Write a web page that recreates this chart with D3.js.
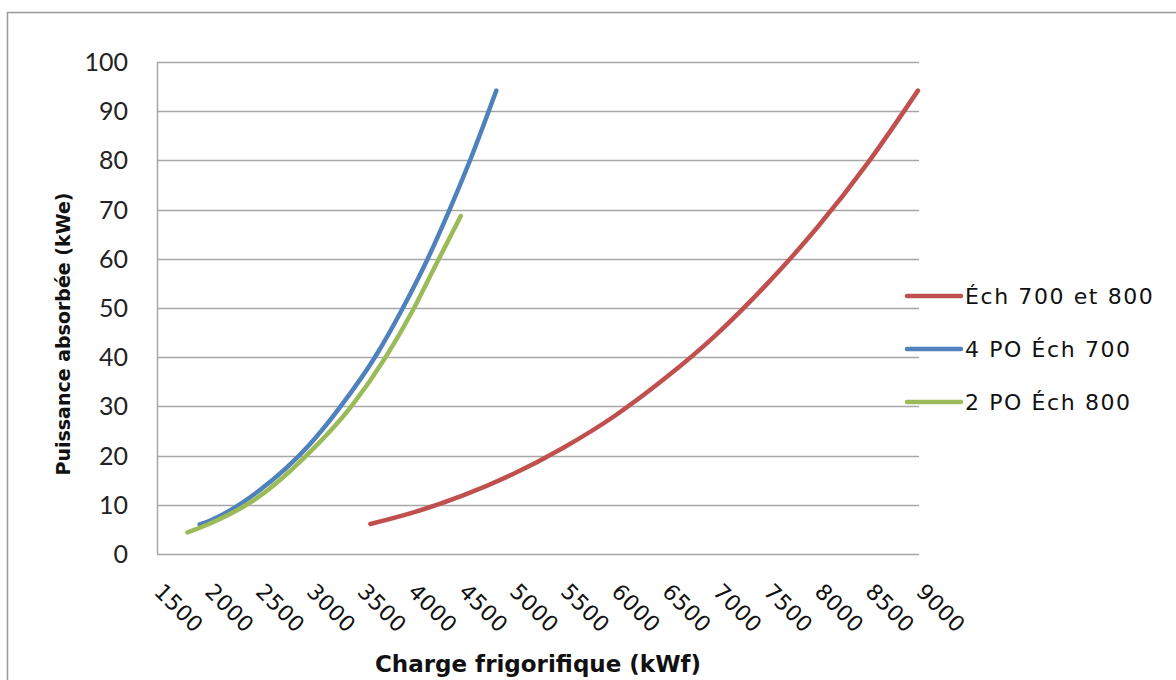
<!DOCTYPE html>
<html>
<head>
<meta charset="utf-8">
<script src="https://cdn.jsdelivr.net/npm/d3@7"></script>
<style>
  html, body { margin: 0; padding: 0; background: #fff; }
  svg { display: block; }
</style>
</head>
<body>
<svg id="chart" width="1176" height="680"></svg>
<script>
// ---- data ----
const seriesNames = ["Éch 700 et 800", "4 PO Éch 700", "2 PO Éch 800"];
const seriesColors = ["#C0504D", "#4F81BD", "#9BBB59"];

const redX = [3600, 4000, 4500, 5000, 5500, 6000, 6500, 7000, 7500, 8000, 8500, 8990];
const redY = [6.1, 8.3, 11.8, 16.2, 21.6, 28.0, 35.7, 44.5, 54.8, 66.4, 79.6, 94.2];

const blueX = [1920, 2000, 2500, 3000, 3300, 3660, 3920, 4160, 4380, 4600, 4840];
const blueY = [6.0, 6.6, 12.8, 22.2, 29.8, 40.5, 50.0, 59.8, 70.0, 81.0, 94.2];

const greenX = [1800, 2000, 2500, 2940, 3420, 3750, 4020, 4250, 4490];
const greenY = [4.4, 6.0, 11.6, 19.4, 30.2, 40.0, 49.6, 59.0, 68.7];

const xTicks = [1500, 2000, 2500, 3000, 3500, 4000, 4500, 5000, 5500, 6000, 6500, 7000, 7500, 8000, 8500, 9000];
const yTicks = [0, 10, 20, 30, 40, 50, 60, 70, 80, 90, 100];

const xTitle = "Charge frigorifique (kWf)";
const yTitle = "Puissance absorbée (kWe)";

// ---- layout ----
const svg = d3.select("#chart");
const plot = { left: 157, right: 919, top: 62, bottom: 554 };
const x = d3.scaleLinear().domain([1500, 9000]).range([plot.left, plot.right]);
const y = d3.scaleLinear().domain([0, 100]).range([plot.bottom, plot.top]);

const grey = "#A6A6A6";

// outer chart border
svg.append("rect")
  .attr("x", 7.5).attr("y", 12.5)
  .attr("width", 1200).attr("height", 700)
  .attr("fill", "none").attr("stroke", "#999").attr("stroke-width", 1.5);

// gridlines
svg.append("g").selectAll("line").data(yTicks).join("line")
  .attr("x1", plot.left).attr("x2", plot.right)
  .attr("y1", d => Math.round(y(d)) + 0.5).attr("y2", d => Math.round(y(d)) + 0.5)
  .attr("stroke", grey).attr("stroke-width", 1.5);

// y axis line
svg.append("line")
  .attr("x1", plot.left + 0.5).attr("x2", plot.left + 0.5)
  .attr("y1", plot.top).attr("y2", plot.bottom)
  .attr("stroke", grey).attr("stroke-width", 1.5);

// y tick labels
svg.append("g").selectAll("text").data(yTicks).join("text")
  .attr("x", 128).attr("y", d => y(d))
  .attr("dy", "0.36em")
  .attr("text-anchor", "end")
  .attr("font-family", "Lato, 'Open Sans', sans-serif")
  .attr("font-size", 25)
  .attr("fill", "#222")
  .text(d => d);

// x tick labels (rotated)
svg.append("g").selectAll("text").data(xTicks).join("text")
  .attr("transform", d => `translate(${x(d) - 4},${593}) rotate(45)`)
  .attr("text-anchor", "start")
  .attr("font-family", "'DejaVu Sans', sans-serif")
  .attr("font-size", 22)
  .attr("letter-spacing", 0.5)
  .attr("fill", "#111")
  .text(d => d);

// axis titles
svg.append("text")
  .attr("x", (plot.left + plot.right) / 2).attr("y", 672)
  .attr("text-anchor", "middle")
  .attr("font-family", "'DejaVu Sans', sans-serif")
  .attr("font-weight", "bold")
  .attr("font-size", 23)
  .attr("fill", "#111")
  .text(xTitle);

svg.append("text")
  .attr("transform", "translate(70,334) rotate(-90)")
  .attr("text-anchor", "middle")
  .attr("font-family", "'DejaVu Sans', sans-serif")
  .attr("font-weight", "bold")
  .attr("font-size", 19)
  .attr("fill", "#111")
  .text(yTitle);

// series
const series = [
  { name: seriesNames[0], color: seriesColors[0], xs: redX, ys: redY },
  { name: seriesNames[1], color: seriesColors[1], xs: blueX, ys: blueY },
  { name: seriesNames[2], color: seriesColors[2], xs: greenX, ys: greenY }
];

const line = d3.line()
  .x(d => x(d[0])).y(d => y(d[1]))
  .curve(d3.curveMonotoneX);

svg.append("g").selectAll("path").data(series).join("path")
  .attr("d", s => line(s.xs.map((v, i) => [v, s.ys[i]])))
  .attr("fill", "none")
  .attr("stroke", s => s.color)
  .attr("stroke-width", 4.5)
  .attr("stroke-linecap", "round")
  .attr("stroke-linejoin", "round");

// legend
const legendY = [296, 349, 402];
const lg = svg.append("g");
series.forEach((s, i) => {
  lg.append("line")
    .attr("x1", 907).attr("x2", 961)
    .attr("y1", legendY[i]).attr("y2", legendY[i])
    .attr("stroke", s.color).attr("stroke-width", 4.5)
    .attr("stroke-linecap", "round");
  lg.append("text")
    .attr("x", 965).attr("y", legendY[i])
    .attr("dy", "0.36em")
    .attr("font-family", "'DejaVu Sans', sans-serif")
    .attr("font-size", 22)
    .attr("letter-spacing", 1.6)
    .attr("fill", "#111")
    .text(s.name);
});
</script>
</body>
</html>
